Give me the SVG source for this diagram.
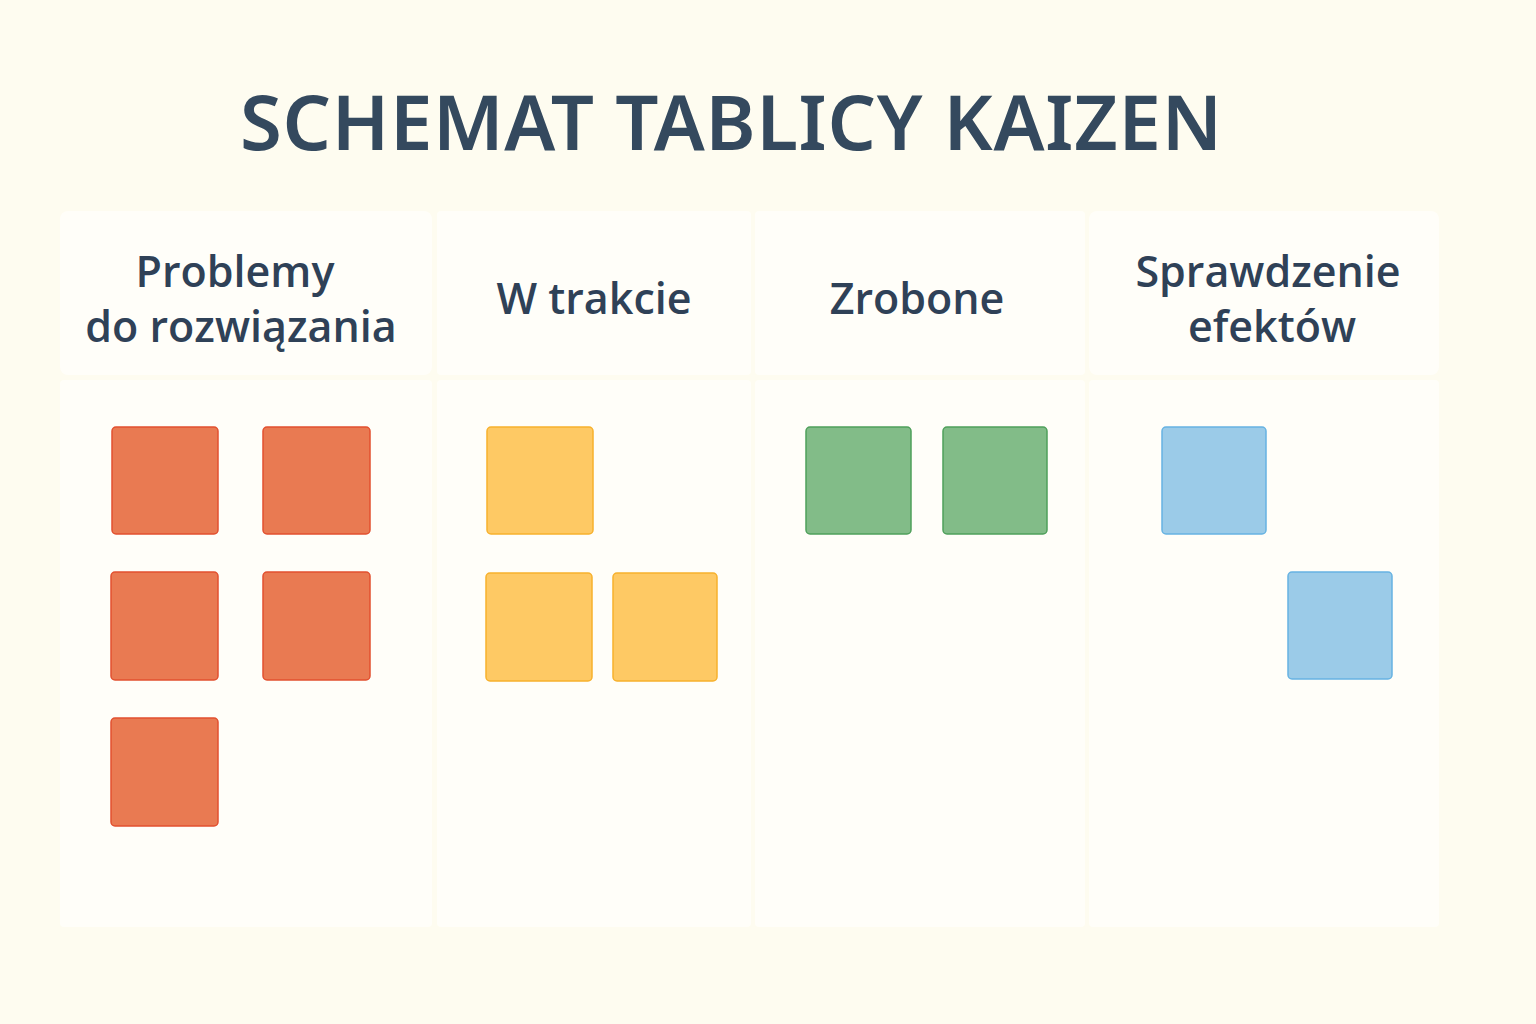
<svg xmlns="http://www.w3.org/2000/svg" width="1536" height="1024" viewBox="0 0 1536 1024">
<style>
.panel{fill:#FFFEF9}
.title{font-family:"Noto Sans","DejaVu Sans",sans-serif;font-weight:600;font-size:76px;fill:#34495E}
.hdr{font-family:"Open Sans","Noto Sans",sans-serif;font-weight:600;font-size:43px;fill:#2F4157;text-anchor:middle}
.red{fill:#E97A52;stroke:#E2502F;stroke-width:1.5}
.yel{fill:#FEC964;stroke:#F7B12D;stroke-width:1.5}
.grn{fill:#82BC88;stroke:#4FA05B;stroke-width:1.5}
.blu{fill:#9BCBE8;stroke:#67B3E2;stroke-width:1.5}
</style>
<rect width="1536" height="1024" fill="#FEFCF0"/>
<text class="title" x="240" y="150" textLength="982" lengthAdjust="spacing">SCHEMAT TABLICY KAIZEN</text>

<g id="col1">
<rect class="panel" x="60" y="211" width="372" height="164" rx="8"/>
<rect class="panel" x="60" y="380" width="372" height="547" rx="4"/>
<text class="hdr" x="235" y="287">Problemy</text>
<text class="hdr" x="241" y="342">do rozwiązania</text>
</g>
<g id="col2">
<rect class="panel" x="437" y="211" width="314" height="164" rx="4"/>
<rect class="panel" x="437" y="380" width="314" height="547" rx="4"/>
<text class="hdr" x="594" y="314">W trakcie</text>
</g>
<g id="col3">
<rect class="panel" x="755" y="211" width="330" height="164" rx="4"/>
<rect class="panel" x="755" y="380" width="330" height="547" rx="4"/>
<text class="hdr" x="917" y="314">Zrobone</text>
</g>
<g id="col4">
<rect class="panel" x="1089" y="211" width="350" height="164" rx="8"/>
<rect class="panel" x="1089" y="380" width="350" height="547" rx="4"/>
<text class="hdr" x="1268" y="287">Sprawdzenie</text>
<text class="hdr" x="1272" y="342">efektów</text>
</g>

<g id="notes-red">
<rect class="red" x="112" y="427" width="106" height="107" rx="4"/>
<rect class="red" x="263" y="427" width="107" height="107" rx="4"/>
<rect class="red" x="111" y="572" width="107" height="108" rx="4"/>
<rect class="red" x="263" y="572" width="107" height="108" rx="4"/>
<rect class="red" x="111" y="718" width="107" height="108" rx="4"/>
</g>
<g id="notes-yellow">
<rect class="yel" x="487" y="427" width="106" height="107" rx="4"/>
<rect class="yel" x="486" y="573" width="106" height="108" rx="4"/>
<rect class="yel" x="613" y="573" width="104" height="108" rx="4"/>
</g>
<g id="notes-green">
<rect class="grn" x="806" y="427" width="105" height="107" rx="4"/>
<rect class="grn" x="943" y="427" width="104" height="107" rx="4"/>
</g>
<g id="notes-blue">
<rect class="blu" x="1162" y="427" width="104" height="107" rx="4"/>
<rect class="blu" x="1288" y="572" width="104" height="107" rx="4"/>
</g>
<g id="connectors"/>
</svg>
